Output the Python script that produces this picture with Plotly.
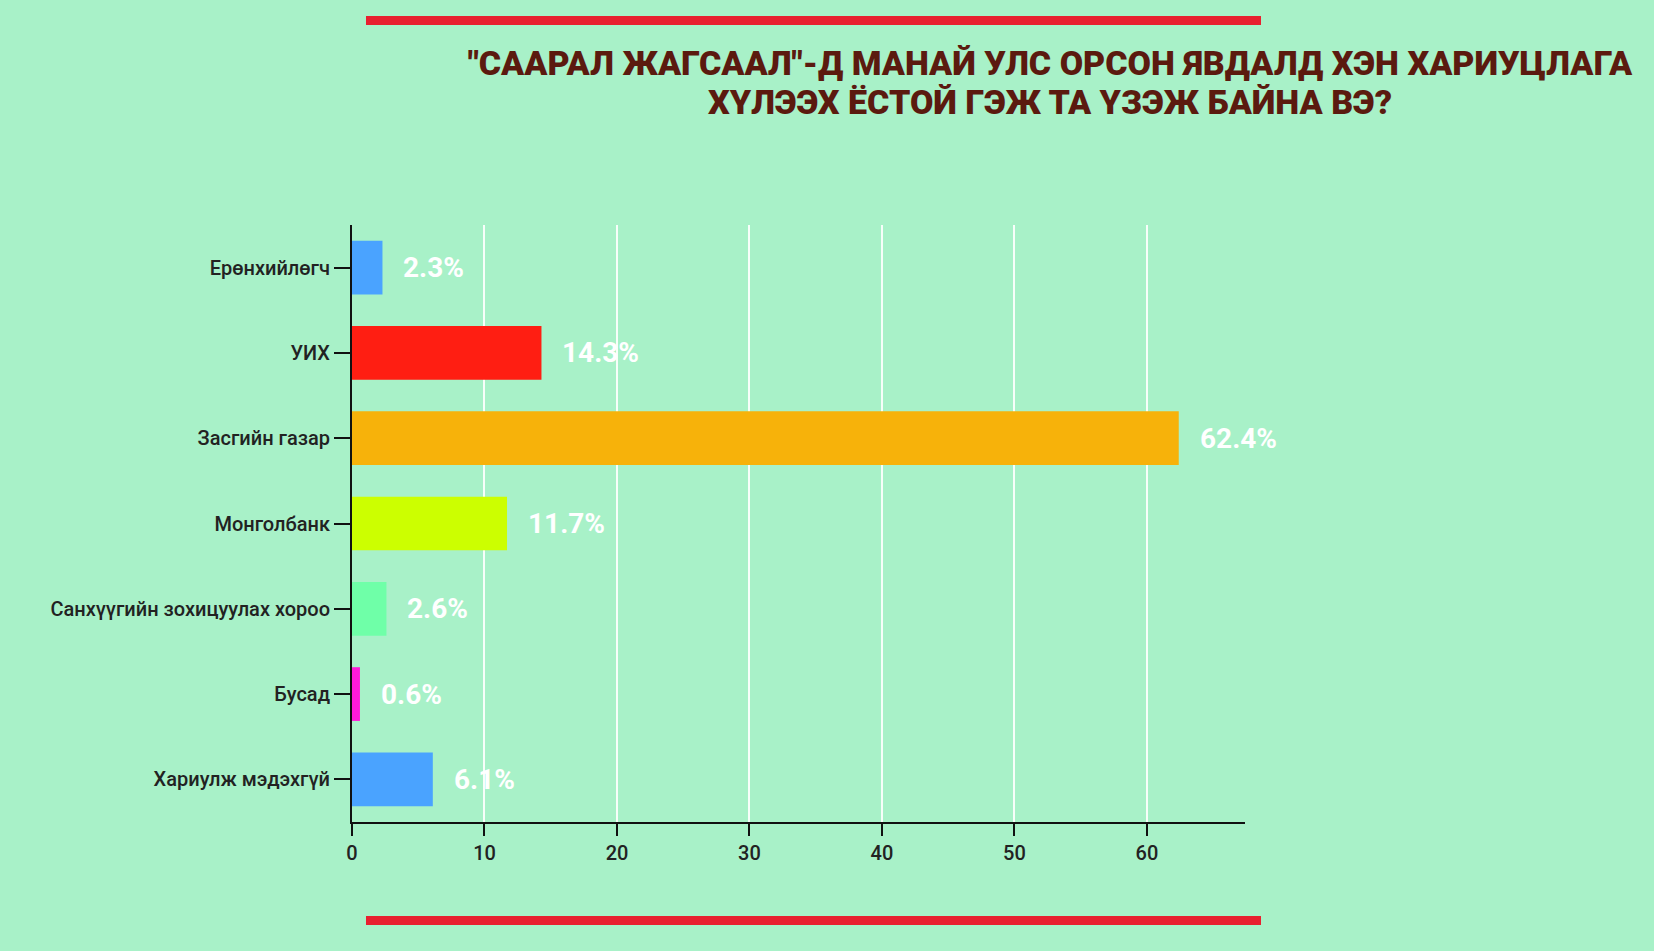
import plotly.graph_objects as go

categories = ["Ерөнхийлөгч", "УИХ", "Засгийн газар", "Монголбанк",
              "Санхүүгийн зохицуулах хороо", "Бусад", "Хариулж мэдэхгүй"]
values = [2.3, 14.3, 62.4, 11.7, 2.6, 0.6, 6.1]
colors = ["#4aa3ff", "#ff1e12", "#f7b20a", "#ccff00", "#6fffa8", "#ff1ad9", "#4aa3ff"]
title_lines = ['"СААРАЛ ЖАГСААЛ"-Д МАНАЙ УЛС ОРСОН ЯВДАЛД ХЭН ХАРИУЦЛАГА',
               'ХҮЛЭЭХ ЁСТОЙ ГЭЖ ТА ҮЗЭЖ БАЙНА ВЭ?']
x_ticks = [0, 10, 20, 30, 40, 50, 60]

BG = "#a8f1c8"
FONT = "Roboto, Noto Sans, sans-serif"

W, H = 1654, 951
L, R, T, B = 352, 409, 225, 129
def px(xp):
    return (xp - L) / (W - L - R)
def py(yp):
    return (H - B - yp) / (H - T - B)

fig = go.Figure()
fig.add_trace(go.Bar(
    x=values, y=categories, orientation="h",
    marker=dict(color=colors, line=dict(width=0)),
    hoverinfo="skip", showlegend=False,
))

annotations = []
for c, v in zip(categories, values):
    annotations.append(dict(
        x=v, y=c, xref="x", yref="y", text=f"<b>{v}%</b>", showarrow=False,
        xanchor="left", yanchor="middle", xshift=19,
        font=dict(family=FONT, size=28, color="white"),
    ))
title_y = [63, 102]
for line, yy in zip(title_lines, title_y):
    annotations.append(dict(
        x=px(1050), y=py(yy), xref="paper", yref="paper",
        text=line, showarrow=False, xanchor="center", yanchor="middle",
        font=dict(family=FONT, size=34, color="#5b1a0f", weight=900),
    ))

shapes = []
for y0, y1 in [(16, 25), (916, 925)]:
    shapes.append(dict(type="rect", xref="paper", yref="paper",
                       x0=px(366), x1=px(1261), y0=py(y1), y1=py(y0),
                       fillcolor="#e8202f", line=dict(width=0), layer="above"))

fig.update_layout(
    width=W, height=H,
    paper_bgcolor=BG, plot_bgcolor=BG,
    margin=dict(l=L, r=R, t=T, b=B),
    bargap=0.37,
    annotations=annotations,
    shapes=shapes,
    xaxis=dict(range=[0, 67.4], tickvals=x_ticks, showgrid=True,
               gridcolor="rgba(255,255,255,0.9)", gridwidth=1.5,
               showline=True, linecolor="#111", linewidth=2,
               ticks="outside", ticklen=12, tickwidth=2, tickcolor="#111",
               tickfont=dict(family=FONT, size=20, color="#222", weight=500),
               zeroline=False, fixedrange=True),
    yaxis=dict(autorange="reversed", showgrid=False,
               showline=True, linecolor="#111", linewidth=2,
               ticks="outside", ticklen=16, tickwidth=2, tickcolor="#111",
               tickfont=dict(family=FONT, size=20, color="#222", weight=500),
               zeroline=False, fixedrange=True),
)

fig.write_html("out.html", config={"displayModeBar": False},
               post_script="document.body.style.margin='0';document.body.style.background='" + BG + "';")
